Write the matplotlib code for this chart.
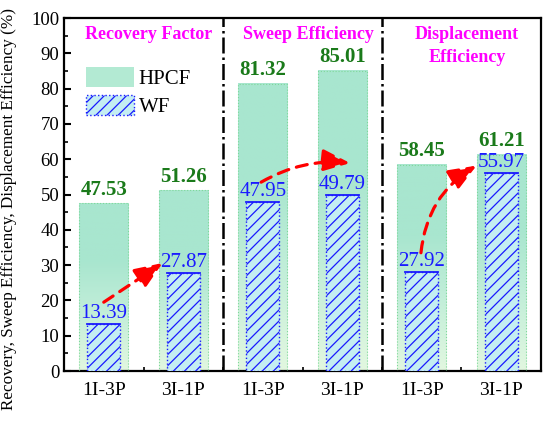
import numpy as np
import matplotlib
matplotlib.use("Agg")
import matplotlib.pyplot as plt
from matplotlib.patches import Patch
from matplotlib.colors import LinearSegmentedColormap

plt.rcParams['font.family'] = ['Liberation Serif', 'DejaVu Serif']
plt.rcParams['hatch.linewidth'] = 0.9

categories = ["1I-3P", "3I-1P", "1I-3P", "3I-1P", "1I-3P", "3I-1P"]
hpcf = [47.53, 51.26, 81.32, 85.01, 58.45, 61.21]
wf = [13.39, 27.87, 47.95, 49.79, 27.92, 55.97]
sections = ["Recovery Factor", "Sweep Efficiency", "Displacement\nEfficiency"]
# arrows: (x0, y0, x1, y1, rad)
arrows = [(1.0, 19.5, 1.74, 30.6, 0.0),
          (2.98, 53.5, 4.10, 58.9, -0.16),
          (4.99, 33.5, 5.69, 58.2, -0.25)]

fig = plt.figure(figsize=(5.5, 4.25), dpi=100)
ax = fig.add_axes([0.1164, 0.127, 0.8672, 0.8306])

x = np.arange(1, len(categories) + 1)
w_h = 0.62
w_w = 0.42

cmap = LinearSegmentedColormap.from_list(
    "g", [(0.0, "#e2f7e0"), (0.35, "#c2eed9"), (0.65, "#a9e6cf"), (1.0, "#a8e6cf")])
grad = np.linspace(0, 1, 256).reshape(-1, 1)

hb = ax.bar(x, hpcf, width=w_h, color="none", edgecolor="#7fd89a",
            linestyle=":", linewidth=0.8, zorder=3)
for rect in hb:
    x0, y0 = rect.get_x(), rect.get_y()
    ww, hh = rect.get_width(), rect.get_height()
    ax.imshow(grad, cmap=cmap, origin="lower", aspect="auto",
              extent=(x0, x0 + ww, y0, y0 + hh), zorder=2)

wb = ax.bar(x, wf, width=w_w, color="#c4eef2", edgecolor="#1a1aff",
            hatch="///", linestyle=":", linewidth=1.0, zorder=4)
for rect in wb:
    ax.plot([rect.get_x(), rect.get_x() + rect.get_width()],
            [rect.get_height()] * 2, color="#1a1aff", lw=1.3, zorder=5)

for xi, v in zip(x, hpcf):
    ax.text(xi, v + 1.0, f"{v:.2f}", ha="center", va="bottom",
            color="#1a7a1a", fontsize=15, fontweight="bold", zorder=6)
for xi, v in zip(x, wf):
    ax.text(xi, v + 0.3, f"{v:.2f}", ha="center", va="bottom",
            color="#1a1aff", fontsize=15, zorder=6)

for xd in [2.5, 4.5]:
    ax.axvline(xd, color="black", linestyle="-.", lw=1.8, zorder=1)

for i, s in enumerate(sections):
    ax.text(1.57 + 2 * i, 97.6, s, ha="center", va="top", color="#ff00ff",
            fontsize=13, fontweight="bold", linespacing=1.45, zorder=6)

for (x0, y0, x1, y1, rad) in arrows:
    ax.annotate("", xy=(x1, y1), xytext=(x0, y0),
                arrowprops=dict(arrowstyle="-|>,head_length=1.0,head_width=0.4",
                                color="#ff0000", lw=2.3, linestyle=(0, (3.5, 2.5)),
                                connectionstyle=f"arc3,rad={rad}",
                                mutation_scale=17, shrinkA=0, shrinkB=0),
                zorder=7)

ax.set_xlim(0.5, 6.5)
ax.set_ylim(0, 100)
ax.set_xticks(x)
ax.set_xticklabels(categories, fontsize=14)
ax.set_xticks(np.arange(1.5, 6.5, 1.0), minor=True)
ax.set_yticks(np.arange(0, 101, 10))
ax.set_yticks(np.arange(5, 100, 10), minor=True)
ax.tick_params(axis="both", which="major", direction="in", length=5, width=1.5,
               labelsize=14)
ax.tick_params(axis="y", labelsize=13.5)
ax.tick_params(axis="both", which="minor", direction="in", length=3, width=1.2)
ax.tick_params(axis="x", pad=8)
for sp in ax.spines.values():
    sp.set_linewidth(1.6)
ax.set_ylabel("Recovery, Sweep Efficiency, Displacement Efficiency (%)",
              fontsize=12.3)
ax.yaxis.set_label_coords(-0.098, 0.458)

handles = [Patch(facecolor="#b3ead3", edgecolor="none"),
           Patch(facecolor="#c4eef2", edgecolor="#1a1aff", hatch="///",
                 linestyle=":")]
ax.legend(handles, ["HPCF", "WF"], loc="upper left", bbox_to_anchor=(0.047, 0.86),
          frameon=False, fontsize=15, handlelength=2.3, handleheight=1.05,
          handletextpad=0.2, borderaxespad=0, borderpad=0, labelspacing=0.3)

fig.savefig("out.png", dpi=100)
